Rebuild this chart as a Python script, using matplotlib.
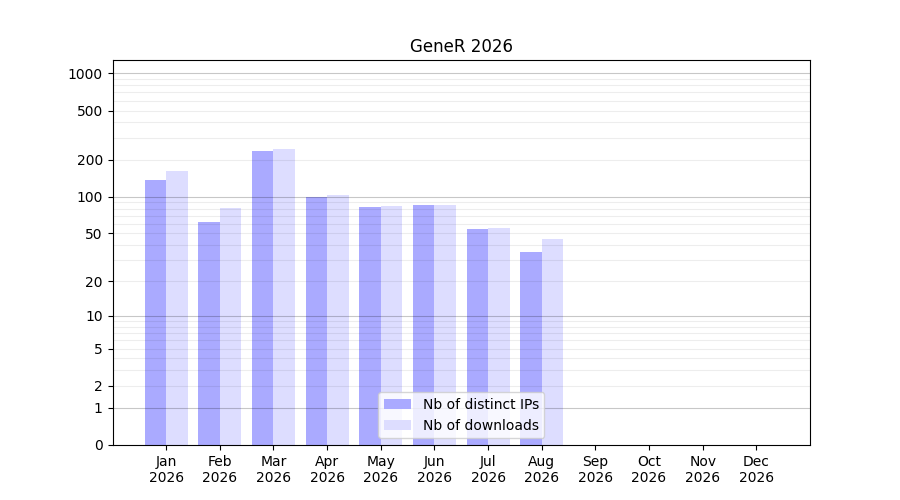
import numpy as np
import matplotlib
matplotlib.use('Agg')
import matplotlib.pyplot as plt

months = ['Jan', 'Feb', 'Mar', 'Apr', 'May', 'Jun', 'Jul', 'Aug', 'Sep', 'Oct', 'Nov', 'Dec']
year = 2026
distinct_ips = [137, 62, 235, 100, 82, 85, 54, 35]
downloads = [162, 81, 244, 103, 84, 85, 55, 45]
ytick_values = [0, 1, 2, 5, 10, 20, 50, 100, 200, 500, 1000]


def fwd(y):
    return np.log10(1 + np.clip(y, 0, None))


def inv(y):
    return 10 ** y - 1


fig, ax = plt.subplots(figsize=(9, 5), dpi=100)
ax.set_yscale('function', functions=(fwd, inv))

x = np.arange(len(months))
ax.bar(x[:len(distinct_ips)] - 0.2, distinct_ips, width=0.4, color='#aaaaff', label='Nb of distinct IPs')
ax.bar(x[:len(downloads)] + 0.2, downloads, width=0.4, color='#ddddff', label='Nb of downloads')

# grid lines: darker at powers of ten, lighter elsewhere (transparent, drawn over bars)
for dec in [1, 10, 100]:
    for m in range(2, 10):
        ax.axhline(m * dec, color='black', alpha=0.07, linewidth=0.8, zorder=3)
for p in [1, 10, 100, 1000]:
    ax.axhline(p, color='black', alpha=0.22, linewidth=0.8, zorder=3)

ax.set_ylim(0, 1280)
ax.set_yticks(ytick_values)
ax.set_yticklabels([str(v) for v in ytick_values])
ax.minorticks_off()
ax.set_xlim(-1, 12)
ax.set_xticks(x)
ax.set_xticklabels([f'{m}\n{year}' for m in months])
ax.set_title(f'GeneR {year}')
ax.legend(loc='lower center')

plt.savefig('out.png')
